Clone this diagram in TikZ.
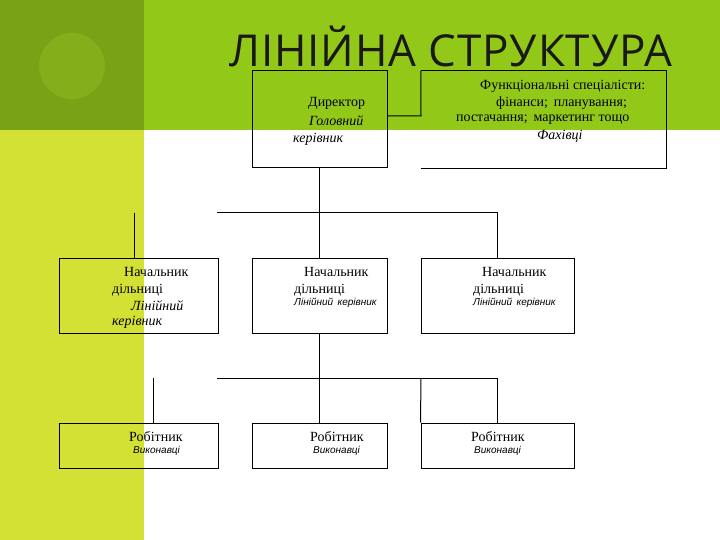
\documentclass[tikz,border=0pt]{standalone}
\usepackage{fontspec}
\setmainfont{Liberation Serif}
\newfontfamily\titlefont[LetterSpace=2]{Open Sans}
\newfontfamily\smallsans{Liberation Sans}
\definecolor{darkgreen}{HTML}{79A216}
\definecolor{circgreen}{HTML}{84AF1A}
\definecolor{bandgreen}{HTML}{92C919}
\definecolor{limegreen}{HTML}{D3E034}
\begin{document}
\begin{tikzpicture}[x=1pt,y=-1pt,
  orgbox/.style={draw=black,line width=1pt,inner sep=0pt},
  openbox/.style={inner sep=0pt},
  lbl/.style={inner sep=0pt,anchor=west,font=\fontsize{14}{16}\selectfont},
  lbli/.style={lbl,font=\fontsize{14}{16}\selectfont\itshape},
  lbls/.style={inner sep=0pt,anchor=west,font=\fontsize{10}{12}\selectfont\smallsans\itshape},
  conn/.style={draw=black,line width=1pt}]
\useasboundingbox (0,0) rectangle (720,540);
% background
\fill[white] (0,0) rectangle (720,540);
\fill[bandgreen] (144,0) rectangle (720,130);
\fill[darkgreen] (0,0) rectangle (144,130);
\fill[limegreen] (0,130) rectangle (144,540);
\fill[circgreen] (72,66) circle (33);
% title
\node[inner sep=0pt,anchor=base west,text=black!90,font=\fontsize{44}{50}\selectfont\titlefont] (title) at (229,67) {ЛІНІЙНА СТРУКТУРА};
% boxes
\node[orgbox,minimum width=135,minimum height=97] (dir) at (319.5,119.5) {};
\node[openbox,minimum width=245,minimum height=97] (func) at (543.5,119.5) {};
\node[orgbox,minimum width=159,minimum height=75] (n1) at (138.5,295.5) {};
\node[orgbox,minimum width=135,minimum height=75] (n2) at (319.5,295.5) {};
\node[orgbox,minimum width=153,minimum height=75] (n3) at (497.5,295.5) {};
\node[orgbox,minimum width=159,minimum height=45] (w1) at (138.5,445.5) {};
\node[orgbox,minimum width=135,minimum height=45] (w2) at (319.5,445.5) {};
\node[orgbox,minimum width=153,minimum height=45] (w3) at (497.5,445.5) {};
% open functional box
\draw[conn] (func.north west) -- (func.north east) -- (func.south east) -- (func.south west);
% director texts
\node[lbl] (d1) at (308,103) {Директор};
\node[lbli] (d2) at (309,121) {Головний};
\node[lbli] (d3) at (293,139) {керівник};
% functional texts
\node[lbl] (f1) at (480,86) {Функціональні спеціалісти:};
\node[lbl] (f2) at (496,103) {фінанси;\, планування;};
\node[lbl] (f3) at (456,120) {постачання;\, маркетинг тощо};
\node[lbli] (f4) at (537,136) {Фахівці};
% n1 texts
\node[lbl] (a1) at (124,272) {Начальник};
\node[lbl] (a2) at (112,290) {дільниці};
\node[lbli] (a3) at (131,306) {Лінійний};
\node[lbli] (a4) at (112,322) {керівник};
% n2
\node[lbl] (b1) at (304,272) {Начальник};
\node[lbl] (b2) at (294,290) {дільниці};
\node[lbls] (b3) at (294,303) {Лінійний\, керівник};
% n3
\node[lbl] (c1) at (482,272) {Начальник};
\node[lbl] (c2) at (473,290) {дільниці};
\node[lbls] (c3) at (473,303) {Лінійний\, керівник};
% workers
\node[lbl] (r1) at (129,437) {Робітник};
\node[lbls] (v1) at (133,451) {Виконавці};
\node[lbl] (r2) at (310,437) {Робітник};
\node[lbls] (v2) at (313,451) {Виконавці};
\node[lbl] (r3) at (471,437) {Робітник};
\node[lbls] (v3) at (474,451) {Виконавці};
% connector coordinates
\coordinate (fj) at (421,116);
\coordinate (h1l) at (217,213);
\coordinate (h1r) at (497,213);
\coordinate (l1) at (134.5,213);
\coordinate (h2l) at (217,378);
\coordinate (h2r) at (497,378);
\coordinate (h2m) at (421,378);
\coordinate (l2) at (153,378);
% connectors
\draw[conn] (dir.east |- fj) -- (fj) -- (func.north west);
\draw[conn] (dir.south) -- (n2.north);
\draw[conn] (h1l) -- (h1r) -- (h1r |- n3.north);
\draw[conn] (l1) -- (l1 |- n1.north);
\draw[conn] (n2.south) -- (w2.north);
\draw[conn] (h2l) -- (h2r) -- (h2r |- w3.north);
\draw[conn] (h2m) -- (w3.north west);
\draw[conn] (l2) -- (l2 |- w1.north);
\end{tikzpicture}
\end{document}
